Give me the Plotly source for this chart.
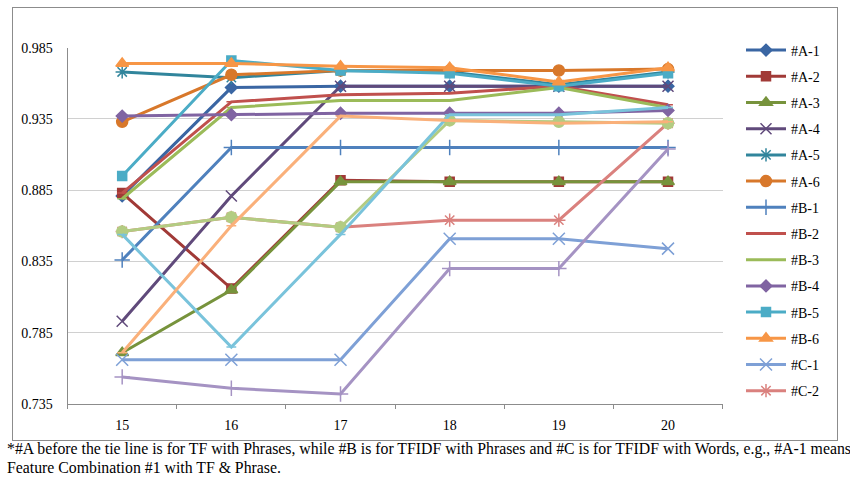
import plotly.graph_objects as go

x_labels = ["15", "16", "17", "18", "19", "20"]

series_names = ["#A-1", "#A-2", "#A-3", "#A-4", "#A-5", "#A-6",
                "#B-1", "#B-2", "#B-3", "#B-4", "#B-5", "#B-6",
                "#C-1", "#C-2", "#C-3", "#C-4", "#C-5", "#C-6"]

a1 = [0.881, 0.957, 0.958, 0.958, 0.958, 0.958]
a2 = [0.883, 0.816, 0.892, 0.891, 0.891, 0.891]
a3 = [0.771, 0.815, 0.891, 0.891, 0.891, 0.891]
a4 = [0.793, 0.881, 0.958, 0.958, 0.958, 0.958]
a5 = [0.968, 0.964, 0.969, 0.968, 0.959, 0.968]
a6 = [0.933, 0.966, 0.969, 0.969, 0.969, 0.970]
b1 = [0.836, 0.915, 0.915, 0.915, 0.915, 0.915]
b2 = [0.883, 0.947, 0.952, 0.953, 0.958, 0.945]
b3 = [0.879, 0.943, 0.948, 0.948, 0.957, 0.943]
b4 = [0.937, 0.938, 0.939, 0.939, 0.939, 0.941]
b5 = [0.895, 0.976, 0.969, 0.967, 0.958, 0.967]
b6 = [0.974, 0.974, 0.972, 0.971, 0.961, 0.971]
c1 = [0.766, 0.766, 0.766, 0.851, 0.851, 0.844]
c2 = [0.856, 0.866, 0.859, 0.864, 0.864, 0.932]
c3 = [0.856, 0.866, 0.859, 0.934, 0.933, 0.932]
c4 = [0.754, 0.746, 0.742, 0.830, 0.830, 0.914]
c5 = [0.854, 0.775, 0.854, 0.938, 0.938, 0.943]
c6 = [0.771, 0.860, 0.937, 0.934, 0.932, 0.933]

series_values = [a1, a2, a3, a4, a5, a6, b1, b2, b3, b4, b5, b6,
                 c1, c2, c3, c4, c5, c6]

colors = ["#3A66A3", "#A13A37", "#77933C", "#604A7B", "#31859C", "#D8782B",
          "#4F81BD", "#C0504D", "#9BBB59", "#8064A2", "#4BACC6", "#F79646",
          "#7EA0D6", "#DA817E", "#B3CC82", "#A593C3", "#79C3DB", "#FAB07A"]

symbols = ["diamond", "square", "triangle-up", "x-thin-open", "asterisk-open", "circle",
           "cross-thin-open", "line-ew-open", "line-ew-open", "diamond", "square", "triangle-up",
           "x-thin-open", "asterisk-open", "circle", "cross-thin-open", "line-ew-open", "line-ew-open"]

sizes = [9, 9, 11, 11, 11, 11, 11, 7, 7, 9, 9, 11, 12, 11, 11, 11, 7, 7]

footnote_lines = [
    "*#A before the tie line is for TF with Phrases, while #B is for TFIDF with Phrases "
    "and #C is for TFIDF with Words, e.g., #A-1 means",
    "Feature Combination #1 with TF &amp; Phrase.",
]

W, H = 850, 481
L, R, T, B = 67.6, 722.6, 47.7, 404.0


def fx(x):
    return x / W


def fy(y):
    return 1 - y / H


fig = go.Figure()
for i, (name, vals) in enumerate(zip(series_names, series_values)):
    fig.add_trace(go.Scatter(
        x=x_labels, y=vals, name=name, mode="lines+markers",
        line=dict(color=colors[i], width=3),
        marker=dict(symbol=symbols[i], size=sizes[i], color=colors[i],
                    line=dict(color=colors[i], width=1.5)),
        showlegend=(i < 14), legendgroup=name,
    ))

# empty trace that instantiates the outer frame subplot (its mirrored axis lines form the frame)
fig.add_trace(go.Scatter(x=[None], y=[None], xaxis="x2", yaxis="y2",
                         showlegend=False, hoverinfo="skip", mode="lines"))

annotations = []
for k, line in enumerate(footnote_lines):
    annotations.append(dict(
        xref="paper", yref="paper", x=fx(4.5), y=fy(448.5 + 19 * k),
        xanchor="left", yanchor="middle", align="left", showarrow=False,
        text=line, font=dict(family="Liberation Serif", size=15.8, color="#000000")))

fig.update_layout(
    width=W, height=H,
    margin=dict(l=0, r=0, t=0, b=0, pad=0, autoexpand=False),
    paper_bgcolor="white", plot_bgcolor="rgba(0,0,0,0)",
    font=dict(family="Liberation Serif", size=14, color="#000000"),
    legend=dict(x=fx(741), y=fy(34.5), xanchor="left", yanchor="top",
                font=dict(family="Liberation Serif", size=14), maxheight=470,
                tracegroupgap=5.0, itemwidth=40, bgcolor="rgba(0,0,0,0)"),
    xaxis=dict(domain=[fx(L), fx(R)], anchor="y",
               type="category", categoryorder="array", categoryarray=x_labels,
               range=[-0.5, 5.5], showline=True, linecolor="#8C8C8C", linewidth=1,
               ticks="outside", tickson="boundaries", ticklen=4, tickcolor="#8C8C8C",
               showgrid=False, zeroline=False, ticklabelstandoff=8,
               tickfont=dict(family="Liberation Serif", size=14)),
    yaxis=dict(domain=[fy(B), fy(T)], anchor="x",
               range=[0.735, 0.985], tick0=0.735, dtick=0.05, tickformat=".3f",
               showline=True, linecolor="#8C8C8C", linewidth=1,
               showgrid=True, gridcolor="#D0D0D0", gridwidth=1, zeroline=False,
               ticks="", ticklabelstandoff=11,
               tickfont=dict(family="Liberation Serif", size=14)),
    xaxis2=dict(domain=[fx(13), fx(837)], anchor="y2", range=[0, 1],
                showline=True, mirror=True, linecolor="#8C8C8C", linewidth=1,
                showgrid=False, zeroline=False, showticklabels=False, ticks=""),
    yaxis2=dict(domain=[fy(440), fy(8)], anchor="x2", range=[0, 1],
                showline=True, mirror=True, linecolor="#8C8C8C", linewidth=1,
                showgrid=False, zeroline=False, showticklabels=False, ticks=""),
    annotations=annotations,
)

fig.write_html("out.html", config={"displayModeBar": False},
               post_script="document.body.style.margin='0';document.body.style.overflow='hidden';")
